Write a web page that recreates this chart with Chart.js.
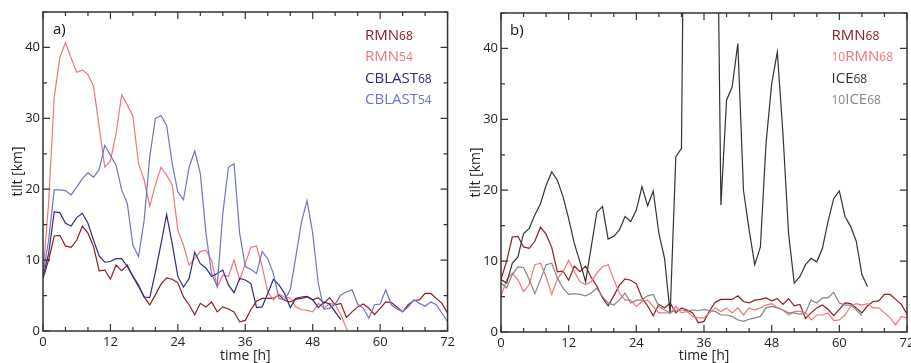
<!DOCTYPE html>
<html>
<head>
<meta charset="utf-8">
<script src="https://cdn.jsdelivr.net/npm/chart.js@4.4.0/dist/chart.umd.min.js"></script>
<style>
  html, body { margin: 0; padding: 0; background: #fff; overflow: hidden; }
  #wrapA { position: absolute; left: 0; top: 0; width: 458px; height: 363px; }
  #wrapB { position: absolute; left: 458px; top: 0; width: 460px; height: 363px; }
</style>
</head>
<body>
<div id="wrapA"><canvas id="chartA"></canvas></div>
<div id="wrapB"><canvas id="chartB"></canvas></div>
<script>
// time axis, hourly output 0..72 h
var hours = []
for (var i = 0; i <= 72; i++) hours.push(i)

// panel a
var rmn68 = [7.4, 10, 13.4, 13.5, 12, 11.8, 12.8, 14.8, 13.8, 11.9, 8.5, 8.6, 7.3, 9.3, 8.5, 9.3, 7.7, 6.5, 4.8, 3.7,
  5.1, 6.6, 7.5, 7.3, 6.8, 4.8, 3.7, 2.3, 3.9, 3.4, 4.1, 2.7, 3.4, 3.1, 2.7, 1.3, 1.5, 3, 4.2, 4.6,
  4.6, 4.6, 5.1, 4.3, 4.1, 4.5, 4.6, 4.8, 4.4, 4.7, 3.9, 4.7, 3.7, 3.9, 1.9, 2.7, 3.4, 3.8, 3.2, 2.3,
  3.2, 4.1, 4, 3.4, 2.7, 3.7, 4.3, 4.4, 5.3, 5.3, 4.6, 3.9, 2.5]
var rmn54 = [8, 18, 33, 38.6, 40.7, 38.5, 36.5, 36.8, 36.2, 34.5, 28.8, 23.1, 24, 27.8, 33.3, 31.9, 30.3, 23.6, 21.3, 17.6,
  20.6, 23.1, 22, 20.6, 14.2, 12.1, 9.3, 10.2, 11.2, 11.4, 10, 6.2, 7.9, 7.7, 10, 7.2, 9.5, 11.8, 12, 9.1,
  5.5, 4.4, 5.2, 4.8, 4.6, 3.4, 3, 2.9, 2.7, 3.9, 3.2, 3.9, 3.7, 2.3, 0.4, -1.5]
var cblast68 = [7.7, 10.9, 16.8, 16.7, 15.2, 14.8, 16, 16.6, 15.2, 12.8, 10.6, 9.7, 9.8, 10.2, 10.2, 9.1, 7.7, 6.3, 4.8, 4.7,
  8.3, 12.3, 16.4, 12.3, 7.7, 6.2, 7.4, 11.1, 9.5, 8.9, 7.7, 8.1, 8.6, 6.5, 5.4, 7.4, 7.2, 6.7, 3.3, 3.4,
  5.3, 7.3, 6.5, 5.3, 3.3, 4.6, 4.8, 4.9, 4.4, 3.3, 4.1, 3.8, 2.7, 1.6]
var cblast54 = [8, 12.8, 19.9, 19.9, 19.8, 19.2, 20.3, 21.5, 22.3, 21.7, 22.8, 26.2, 24.8, 23.4, 19.9, 18, 12.1, 10.5, 15.6, 24.6,
  30, 30.4, 29, 23.6, 19.6, 18.5, 23.1, 25.4, 22.2, 13.8, 8.1, 6.3, 16.6, 23.1, 23.6, 13.8, 9.1, 8.7, 8.1, 11.2,
  10.2, 8.1, 4.6, 4.4, 5.8, 10.5, 15.4, 18.4, 13.8, 6.7, 3.1, 3.2, 3.8, 5.1, 5.5, 5.8, 3.8, 3.2, 1.8, 3.7,
  3.8, 5.8, 3.7, 3.1, 2.7, 3.4, 4.4, 3.9, 3.5, 4.1, 3.7, 2.5, 1.3]

// panel b (ICE68 leaves the plot between 33 and 38 h)
var rmn68x10 = [5, 7.4, 8.3, 7.4, 5.7, 6.7, 9.5, 9.7, 7.8, 5.3, 7.5, 8.5, 10.1, 8.5, 7.1, 6.7, 7.1, 8.3, 9.2, 9.5,
  7.4, 5.5, 4.5, 4.5, 3.6, 4.3, 4.5, 3.6, 2.7, 2.7, 2.7, 3.6, 2.7, 2.9, 2.2, 2, 2, 2.7, 3.4, 2.9,
  3.4, 2.7, 3.4, 2.4, 3.4, 3.1, 3.4, 3.8, 4, 3.4, 3.1, 2.4, 2.9, 2.9, 2.7, 1.7, 2.4, 2.4, 2.7, 1.6,
  1.7, 2.4, 3.6, 4, 3.8, 4, 3.4, 3.4, 2.7, 2, 1, 2.2, 2]
var ice68 = [7.4, 6.9, 9.7, 10.6, 13.9, 14.6, 16.5, 18.1, 20.7, 22.6, 21.4, 19.1, 16, 12.5, 9.9, 7.1, 12, 16.9, 17.7, 13.1,
  13.5, 14.4, 16.3, 15.6, 17.2, 20.5, 17.8, 19.9, 13.9, 10.4, 2.6, 24.7, 25.9, 110, 100, 100, 100, 100, 86, 17.9,
  32.7, 34.6, 40.7, 20, 14.4, 9.5, 12, 26.6, 35, 39.5, 28, 13.9, 6.9, 7.8, 9.5, 10.4, 9.9, 11.8, 15.6, 18.8,
  19.9, 16.3, 14.9, 12.8, 8.1, 6.4]
var ice68x10 = [6.9, 6.2, 8.1, 9.2, 9.1, 7.4, 5.4, 7.4, 9.5, 9.7, 7.6, 6.2, 5.3, 5.4, 5.3, 5.1, 5.5, 6.2, 5, 4.1,
  3.8, 4.5, 5.5, 4.1, 4.5, 4.5, 5.1, 5.3, 3.6, 3.1, 2.7, 3.1, 3.1, 3, 3.1, 3, 3.2, 3, 2.9, 2.4,
  2.4, 2.2, 1.7, 1.5, 1.8, 2, 2.2, 3.4, 3.6, 3.4, 3.1, 2.7, 2.7, 2.5, 2.7, 4.5, 4.1, 4.8, 4.8, 5.6,
  4.1, 3.8, 3.8, 3.1, 2.3]

var xTickLabels = [0, 12, 24, 36, 48, 60, 72]
var yTickLabels = [0, 10, 20, 30, 40]

var FONT = "'Open Sans', sans-serif"
var cDarkRed = '#8c1c22'
var cSalmon = '#f27677'
var cNavy = '#2c2c78'
var cLightBlue = '#6c74c4'
var cDarkGray = '#333333'
var cGray = '#858585'

function toPoints (vals) {
  var pts = []
  for (var i = 0; i < vals.length; i++) pts.push({ x: hours[i], y: vals[i] })
  return pts
}

function dset (vals, color, order) {
  return {
    data: toPoints(vals),
    borderColor: color,
    backgroundColor: color,
    borderWidth: 1.2,
    pointRadius: 0,
    tension: 0,
    fill: false,
    order: order
  }
}

// frame, inward ticks on all four sides, panel letter and legend
var frameTicks = {
  id: 'frameTicks',
  afterDatasetsDraw: function (chart, args, opts) {
    var ctx = chart.ctx
    var a = chart.chartArea
    var xs = chart.scales.x
    var ys = chart.scales.y
    ctx.save()
    ctx.strokeStyle = '#333'
    ctx.lineWidth = 1.2
    ctx.beginPath()
    for (var h = 0; h <= 72; h += 4) {
      var px = xs.getPixelForValue(h)
      var len = h % 12 === 0 ? 7 : 4
      ctx.moveTo(px, a.bottom); ctx.lineTo(px, a.bottom - len)
      ctx.moveTo(px, a.top); ctx.lineTo(px, a.top + len)
    }
    for (var v = 0; v <= 45; v += 5) {
      var py = ys.getPixelForValue(v)
      var l2 = v % 10 === 0 ? 7 : 4
      ctx.moveTo(a.left, py); ctx.lineTo(a.left + l2, py)
      ctx.moveTo(a.right, py); ctx.lineTo(a.right - l2, py)
    }
    ctx.stroke()
    ctx.lineWidth = 1.5
    ctx.strokeRect(a.left, a.top, a.right - a.left, a.bottom - a.top)

    ctx.fillStyle = '#111'
    ctx.textBaseline = 'alphabetic'
    ctx.font = '15px ' + FONT
    ctx.fillText(opts.label, opts.labelX, opts.labelY)

    for (var k = 0; k < opts.names.length; k++) {
      var nm = opts.names[k]
      var x = opts.legendX
      var y = opts.legendY + k * opts.legendStep
      ctx.fillStyle = opts.colors[k]
      if (nm.pre) {
        ctx.font = '12px ' + FONT
        ctx.fillText(nm.pre, x, y)
        x += ctx.measureText(nm.pre).width
      }
      ctx.font = '15px ' + FONT
      ctx.fillText(nm.main, x, y)
      x += ctx.measureText(nm.main).width
      ctx.font = '12px ' + FONT
      ctx.fillText(nm.sub, x, y)
    }
    ctx.restore()
  }
}

function makeChart (id, datasets, extra, pad) {
  return new Chart(document.getElementById(id), {
    type: 'line',
    data: { datasets: datasets },
    plugins: [frameTicks],
    options: {
      responsive: true,
      maintainAspectRatio: false,
      animation: false,
      layout: { padding: { left: 0, right: pad.right, top: pad.top, bottom: 0 } },
      plugins: {
        legend: { display: false },
        tooltip: { enabled: false },
        frameTicks: extra
      },
      scales: {
        x: {
          type: 'linear',
          min: 0,
          max: 72,
          grid: { display: false, drawTicks: false },
          border: { display: false },
          afterBuildTicks: function (s) {
            s.ticks = xTickLabels.map(function (t) { return { value: t } })
          },
          ticks: { padding: 3, color: '#222', font: { family: FONT, size: 13 }, maxRotation: 0, autoSkip: false },
          title: {
            display: true,
            text: 'time [h]',
            color: '#222',
            font: { family: FONT, size: 14, lineHeight: 1 },
            padding: { top: 0, bottom: 0 }
          },
          afterFit: function (s) { s.height = pad.xh }
        },
        y: {
          type: 'linear',
          min: 0,
          max: 45,
          grid: { display: false, drawTicks: false },
          border: { display: false },
          afterBuildTicks: function (s) {
            s.ticks = yTickLabels.map(function (t) { return { value: t } })
          },
          ticks: { padding: 3, color: '#222', font: { family: FONT, size: 13 } },
          title: {
            display: true,
            text: 'tilt [km]',
            color: '#222',
            font: { family: FONT, size: 14, lineHeight: 1 },
            padding: { top: 11, bottom: 0 }
          },
          afterFit: function (s) { s.width = 43 }
        }
      }
    }
  })
}

makeChart('chartA', [
  dset(rmn68, cDarkRed, 4),
  dset(rmn54, cSalmon, 3),
  dset(cblast68, cNavy, 2),
  dset(cblast54, cLightBlue, 1)
], {
  label: 'a)', labelX: 53, labelY: 34,
  legendX: 365, legendY: 40, legendStep: 21.3,
  names: [
    { pre: '', main: 'RMN', sub: '68' },
    { pre: '', main: 'RMN', sub: '54' },
    { pre: '', main: 'CBLAST', sub: '68' },
    { pre: '', main: 'CBLAST', sub: '54' }
  ],
  colors: [cDarkRed, cSalmon, cNavy, cLightBlue]
}, { right: 8, top: 12, xh: 32 })

makeChart('chartB', [
  dset(rmn68, cDarkRed, 4),
  dset(rmn68x10, cSalmon, 3),
  dset(ice68, cDarkGray, 2),
  dset(ice68x10, cGray, 1)
], {
  label: 'b)', labelX: 52, labelY: 35,
  legendX: 373.5, legendY: 39.5, legendStep: 21.5,
  names: [
    { pre: '', main: 'RMN', sub: '68' },
    { pre: '10', main: 'RMN', sub: '68' },
    { pre: '', main: 'ICE', sub: '68' },
    { pre: '10', main: 'ICE', sub: '68' }
  ],
  colors: [cDarkRed, cSalmon, cDarkGray, cGray]
}, { right: 11, top: 13, xh: 31 })
</script>
</body>
</html>
